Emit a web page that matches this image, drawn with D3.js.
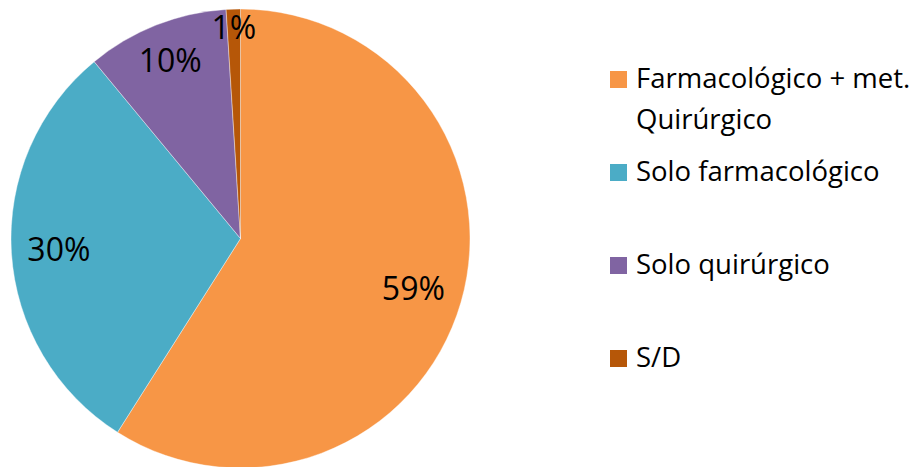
<!DOCTYPE html>
<html>
<head>
<meta charset="utf-8">
<script src="https://cdn.jsdelivr.net/npm/d3@7"></script>
<style>
  body { margin: 0; background: #fff; }
  svg { display: block; font-family: "Open Sans", sans-serif; }
</style>
</head>
<body>
<div id="chart"></div>
<script>
// categories and shares (%)
const categories = ["Farmacológico + met. Quirúrgico", "Solo farmacológico", "Solo quirúrgico", "S/D"];
const shares = [59, 30, 10, 1];
const colors = ["#F79646", "#4BACC6", "#8064A2", "#B65708"];

const width = 918;
const height = 467;
const cx = 240.5;
const cy = 238.5;
const radius = 229.5;

// Excel "best fit" pushes labels of thin slices outward
const labelRadius = [180, 182, 191, 211];

const pieData = categories.map((c, i) => ({ name: c, value: shares[i], color: colors[i] }));

const svg = d3
  .select("#chart")
  .append("svg")
  .attr("width", width)
  .attr("height", height);

const pie = d3.pie().sort(null).value((d) => d.value);
const arc = d3.arc().innerRadius(0).outerRadius(radius);

const pieG = svg.append("g").attr("transform", `translate(${cx},${cy})`);

const arcs = pie(pieData);

pieG
  .selectAll("path")
  .data(arcs)
  .enter()
  .append("path")
  .attr("d", arc)
  .attr("fill", (d) => d.data.color)
  .attr("stroke", "#fff")
  .attr("stroke-width", 0.4);

// percent labels
const total = d3.sum(shares);
pieG
  .selectAll(".pct")
  .data(arcs)
  .enter()
  .append("text")
  .attr("class", "pct")
  .attr("transform", (d, i) => {
    const a = (d.startAngle + d.endAngle) / 2;
    const r = labelRadius[i];
    return `translate(${Math.sin(a) * r},${-Math.cos(a) * r})`;
  })
  .attr("text-anchor", "middle")
  .attr("dy", "0.35em")
  .style("font-size", "32px")
  .attr("fill", "#000")
  .text((d) => Math.round((d.data.value / total) * 100) + "%");

// legend
const legendX = 610;
const legendTop = 88;
const legendStep = 93;
const maxTextWidth = 290;

const legend = svg.append("g");

pieData.forEach((d, i) => {
  const g = legend.append("g").attr("transform", `translate(${legendX},${legendTop + i * legendStep})`);
  g.append("rect")
    .attr("x", 0)
    .attr("y", -17)
    .attr("width", 17)
    .attr("height", 17)
    .attr("fill", d.color);

  const text = g
    .append("text")
    .attr("x", 26)
    .attr("y", 0)
    .style("font-size", "27.5px")
    .attr("fill", "#000");

  // simple word wrap
  const words = d.name.split(" ");
  let line = [];
  let lineNo = 0;
  let tspan = text.append("tspan").attr("x", 26).attr("y", 0);
  words.forEach((w) => {
    line.push(w);
    tspan.text(line.join(" "));
    if (tspan.node().getComputedTextLength() > maxTextWidth && line.length > 1) {
      line.pop();
      tspan.text(line.join(" "));
      line = [w];
      lineNo++;
      tspan = text.append("tspan").attr("x", 26).attr("y", lineNo * 41).text(w);
    }
  });
});
</script>
</body>
</html>
